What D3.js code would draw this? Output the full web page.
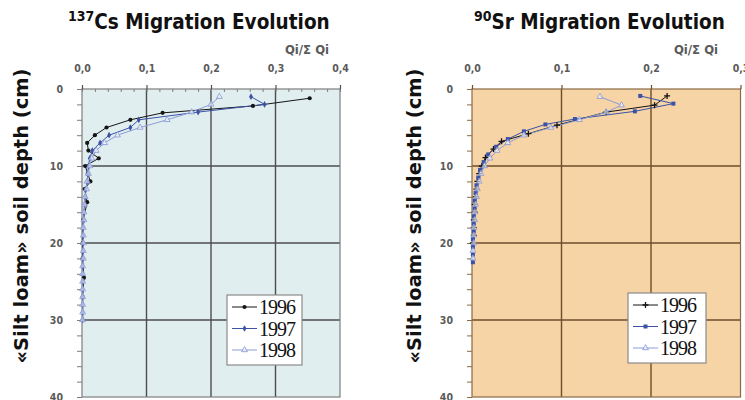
<!DOCTYPE html>
<html>
<head>
<meta charset="utf-8">
<script src="https://cdn.jsdelivr.net/npm/d3@7"></script>
<style>
  html, body { margin: 0; padding: 0; background: #ffffff; }
  svg { display: block; }
  .title { font-family: "DejaVu Sans Condensed", "DejaVu Sans", sans-serif; font-stretch: condensed; font-weight: bold; fill: #111; }
  .ylab { font-family: "DejaVu Sans", sans-serif; font-weight: bold; fill: #111; }
  .tick text { font-family: "DejaVu Sans Condensed", "DejaVu Sans", sans-serif; font-stretch: condensed; font-weight: bold; font-size: 10.5px; fill: #5a5a5a; }
  .qlab { font-family: "DejaVu Sans Condensed", "DejaVu Sans", sans-serif; font-stretch: condensed; font-weight: bold; font-size: 13px; fill: #5a5a5a; }
  .legtext { font-family: "Liberation Serif", serif; font-size: 20px; fill: #111; letter-spacing: -1px; }
</style>
</head>
<body>
<script>
// ---- axis ticks ----
const depthTicks = [0, 10, 20, 30, 40];
const depthMinor = d3.range(0, 41, 2);
const csTicks = [0, 0.1, 0.2, 0.3, 0.4];
const csMinor = d3.range(0, 0.401, 0.02);
const srTicks = [0, 0.1, 0.2, 0.3];
const years = ["1996", "1997", "1998"];

// ---- 137Cs profiles: depth (cm) and fraction Qi/ΣQi ----
const csDepth1996 = [1.2, 2.2, 3.1, 4.0, 5.0, 6.0, 7.0, 8.0, 9.0, 10.0, 11.0, 12.0, 13.0, 14.7, 17.0, 20.0, 22.0, 24.5, 27.0, 30.0];
const cs1996      = [0.353, 0.265, 0.125, 0.075, 0.038, 0.020, 0.008, 0.010, 0.026, 0.005, 0.009, 0.013, 0.004, 0.008, 0.002, 0.001, 0.001, 0.003, 0.001, 0.001];
const csDepth1997 = d3.range(1, 31);
const cs1997      = [0.262, 0.283, 0.180, 0.088, 0.075, 0.042, 0.028, 0.016, 0.012, 0.010, 0.009, 0.008, 0.006, 0.005, 0.004, 0.003, 0.003, 0.002, 0.002, 0.002, 0.002, 0.001, 0.001, 0.001, 0.001, 0.001, 0.001, 0.001, 0.001, 0.001];
const csDepth1998 = d3.range(1, 31);
const cs1998      = [0.213, 0.200, 0.170, 0.132, 0.090, 0.055, 0.035, 0.022, 0.015, 0.012, 0.010, 0.008, 0.007, 0.005, 0.004, 0.003, 0.003, 0.002, 0.002, 0.002, 0.002, 0.002, 0.001, 0.001, 0.001, 0.001, 0.001, 0.001, 0.001, 0.001];

// ---- 90Sr profiles ----
const srDepth1996 = [0.9, 2.1, 3.0, 4.7, 5.8, 6.8, 7.8, 8.9, 10, 11, 12, 13, 14, 15, 16, 17, 18, 19, 20];
const sr1996      = [0.218, 0.204, 0.150, 0.095, 0.063, 0.033, 0.024, 0.015, 0.011, 0.008, 0.006, 0.005, 0.004, 0.003, 0.003, 0.002, 0.002, 0.002, 0.001];
const srDepth1997 = [0.9, 1.9, 2.9, 3.9, 4.6, 5.5, 6.5, 7.5, 8.5, 9.5, 10.5, 11.5, 12.5, 13.5, 14.5, 15.5, 16.5, 17.5, 18.5, 19.5, 20.5, 21.5, 22.5];
const sr1997      = [0.188, 0.225, 0.182, 0.115, 0.082, 0.058, 0.040, 0.027, 0.018, 0.013, 0.009, 0.007, 0.005, 0.004, 0.003, 0.003, 0.002, 0.002, 0.002, 0.001, 0.001, 0.001, 0.001];
const srDepth1998 = [1.0, 2.1, 3.0, 4.0, 5.0, 6.0, 7.0, 8.0, 9.0, 10, 11, 12, 13, 14, 15, 16, 17, 18, 19, 20, 21, 22];
const sr1998      = [0.143, 0.167, 0.150, 0.120, 0.088, 0.058, 0.040, 0.028, 0.020, 0.014, 0.010, 0.008, 0.006, 0.005, 0.004, 0.003, 0.003, 0.002, 0.002, 0.002, 0.001, 0.001];

const colors = { "1996": "#151515", "1997": "#3b52a6", "1998": "#8c9cd8" };

const zip = (ds, vs) => ds.map((d, i) => ({ d: d, v: vs[i] }));

const svg = d3.select("body").append("svg")
  .attr("width", 745).attr("height", 400);

// marker painter: kind = dot | diamond | square | tri | plus
function marker(g, kind, cx, cy, color) {
  if (kind === "dot") {
    g.append("circle").attr("cx", cx).attr("cy", cy).attr("r", 2.1).attr("fill", color);
  } else if (kind === "diamond") {
    g.append("path").attr("d", d3.symbol(d3.symbolDiamond, 13)()).attr("transform", `translate(${cx},${cy})`).attr("fill", color);
  } else if (kind === "square") {
    g.append("rect").attr("x", cx - 2).attr("y", cy - 2).attr("width", 4).attr("height", 4).attr("fill", color);
  } else if (kind === "tri") {
    g.append("path").attr("d", d3.symbol(d3.symbolTriangle, 15)()).attr("transform", `translate(${cx},${cy})`)
      .attr("fill", "#ffffff").attr("fill-opacity", 0.6).attr("stroke", color).attr("stroke-width", 0.9);
  } else if (kind === "plus") {
    g.append("path").attr("d", `M${cx - 3},${cy}H${cx + 3}M${cx},${cy - 3}V${cy + 3}`)
      .attr("stroke", color).attr("stroke-width", 1.3);
  }
}

function panel(o) {
  const x = d3.scaleLinear().domain([0, o.xmax]).range([o.x0, o.x1]);
  const y = d3.scaleLinear().domain([0, 40]).range([89, 397]);
  const g = svg.append("g");

  g.append("rect").attr("x", o.x0).attr("y", y(0)).attr("width", o.x1 - o.x0).attr("height", y(40) - y(0))
    .attr("fill", o.bg);

  // grid
  g.append("g").selectAll("line").data(o.xTicks.slice(1, -1)).join("line")
    .attr("x1", d => x(d)).attr("x2", d => x(d)).attr("y1", y(0)).attr("y2", y(40))
    .attr("stroke", o.grid).attr("stroke-width", 1.4);
  g.append("g").selectAll("line").data(depthTicks.slice(1, -1)).join("line")
    .attr("x1", o.x0).attr("x2", o.x1).attr("y1", d => y(d)).attr("y2", d => y(d))
    .attr("stroke", o.grid).attr("stroke-width", 1.4);

  // frame
  g.append("rect").attr("x", o.x0).attr("y", y(0)).attr("width", o.x1 - o.x0).attr("height", y(40) - y(0))
    .attr("fill", "none").attr("stroke", o.frame).attr("stroke-width", 1.2);

  // top axis
  const fmt = d => d3.format(".1f")(d).replace(".", ",");
  const ax = g.append("g").attr("transform", `translate(0,${y(0)})`)
    .call(d3.axisTop(x).tickValues(o.xTicks).tickFormat(fmt).tickSizeInner(4).tickSizeOuter(0).tickPadding(13));
  ax.select(".domain").remove();
  ax.selectAll(".tick line").attr("stroke", o.grid).attr("stroke-width", 1.2);
  if (o.xMinor) {
    const mx = g.append("g").attr("transform", `translate(0,${y(0)})`)
      .call(d3.axisBottom(x).tickValues(o.xMinor).tickFormat("").tickSizeInner(3).tickSizeOuter(0));
    mx.select(".domain").remove();
    mx.selectAll(".tick line").attr("stroke", o.frame).attr("stroke-width", 1);
  }

  // left axis
  const ay = g.append("g").attr("transform", `translate(${o.x0},0)`)
    .call(d3.axisLeft(y).tickValues(depthTicks).tickSizeInner(5).tickSizeOuter(0).tickPadding(14));
  ay.select(".domain").remove();
  ay.selectAll(".tick line").attr("stroke", o.frame);
  const my = g.append("g").attr("transform", `translate(${o.x0},0)`)
    .call(d3.axisLeft(y).tickValues(depthMinor).tickFormat("").tickSizeInner(5).tickSizeOuter(0));
  my.select(".domain").remove();
  my.selectAll(".tick line").attr("stroke", o.frame).attr("stroke-width", 1);

  // axis quantity label
  g.append("text").attr("class", "qlab").attr("x", o.qx).attr("y", 54).attr("text-anchor", "middle")
    .text("Qi/Σ Qi");

  // series
  const line = d3.line().x(d => x(d.v)).y(d => y(d.d));
  o.series.forEach(s => {
    const pts = zip(s.depth, s.values);
    g.append("path").datum(pts).attr("d", line).attr("fill", "none")
      .attr("stroke", colors[s.year]).attr("stroke-width", 1);
  });
  o.series.forEach(s => {
    const pts = zip(s.depth, s.values);
    const mg = g.append("g");
    pts.forEach(p => marker(mg, s.mark, x(p.v), y(p.d), colors[s.year]));
  });

  // legend
  const lg = g.append("g").attr("transform", `translate(${o.legX},${o.legY})`);
  lg.append("rect").attr("x", 0).attr("y", 0).attr("width", o.legW).attr("height", 70)
    .attr("fill", "#ffffff").attr("stroke", "#8a8a8a").attr("stroke-width", 1.2);
  o.series.forEach((s, i) => {
    const yy = 12 + i * 21.5;
    lg.append("line").attr("x1", 5).attr("x2", 30).attr("y1", yy).attr("y2", yy)
      .attr("stroke", colors[s.year]).attr("stroke-width", 1);
    marker(lg, s.mark, 17.5, yy, colors[s.year]);
    lg.append("text").attr("class", "legtext").attr("x", 32).attr("y", yy + 7).text(s.year);
  });

  // title
  const t = svg.append("text").attr("class", "title").attr("x", o.tx).attr("y", 29);
  t.append("tspan").attr("font-size", 14).attr("dy", -8).text(o.iso);
  t.append("tspan").attr("font-size", 20.5).attr("dy", 8).text(o.element + " Migration Evolution");

  // depth label
  svg.append("text").attr("class", "ylab")
    .attr("transform", `translate(${o.lx},216) rotate(-90)`)
    .attr("text-anchor", "middle").attr("font-size", 19.5)
    .text("«Silt loam» soil depth (cm)");
}

panel({
  x0: 82, x1: 340, xmax: 0.4, xTicks: csTicks, xMinor: csMinor,
  bg: "#e0eeef", grid: "#4d4d4d", frame: "#7d7d7d",
  qx: 307, legX: 227, legY: 295, legW: 75,
  tx: 68, iso: "137", element: "Cs", lx: 28,
  series: [
    { year: years[0], depth: csDepth1996, values: cs1996, mark: "dot" },
    { year: years[1], depth: csDepth1997, values: cs1997, mark: "diamond" },
    { year: years[2], depth: csDepth1998, values: cs1998, mark: "tri" }
  ]
});

panel({
  x0: 472, x1: 740.5, xmax: 0.3, xTicks: srTicks, xMinor: null,
  bg: "#f7d4a6", grid: "#6b4e2a", frame: "#8a6a45",
  qx: 696, legX: 628, legY: 293, legW: 78,
  tx: 474, iso: "90", element: "Sr", lx: 421,
  series: [
    { year: years[0], depth: srDepth1996, values: sr1996, mark: "plus" },
    { year: years[1], depth: srDepth1997, values: sr1997, mark: "square" },
    { year: years[2], depth: srDepth1998, values: sr1998, mark: "tri" }
  ]
});
</script>
</body>
</html>
